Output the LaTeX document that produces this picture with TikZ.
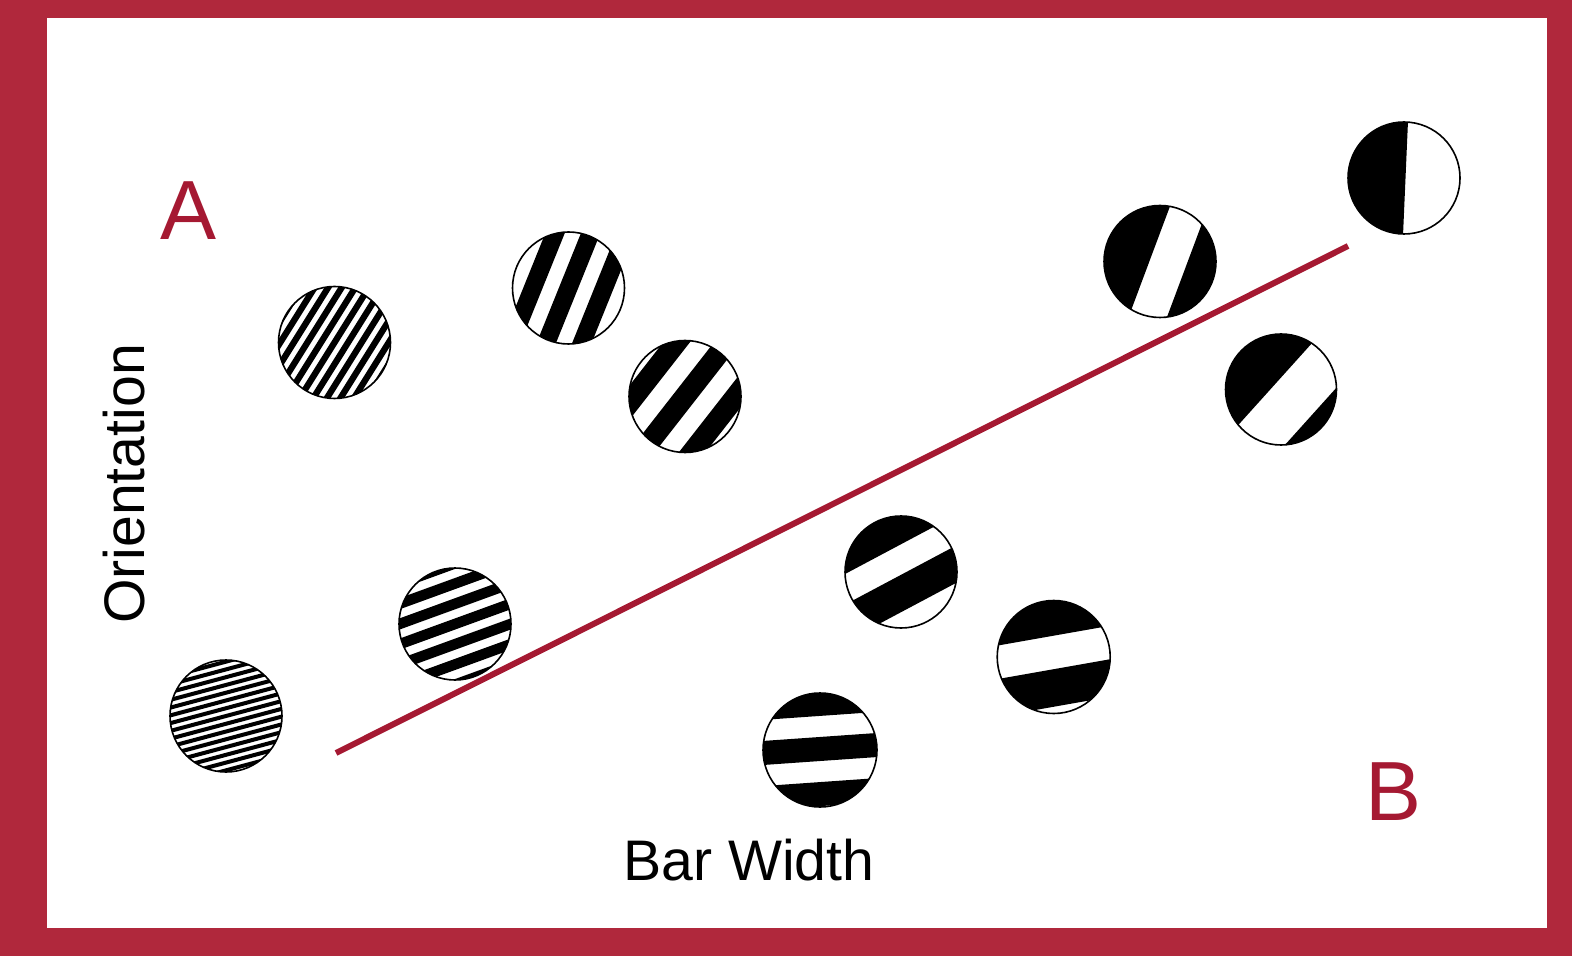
\documentclass[tikz,border=0pt]{standalone}
\usepackage{fontspec}
\setmainfont{Liberation Sans}
\definecolor{frame}{RGB}{176,40,60}
\definecolor{dred}{RGB}{165,25,50}
\newcommand\grat[8]{% cx cy angle period phase r name blackwidth
 \begin{scope}[shift={(#1,#2)},rotate=#3]
  \begin{scope}
  \clip (0,0) circle (#6);
  \fill[white] (0,0) circle (#6);
  \foreach \k in {-16,...,16}{
    \pgfmathsetmacro\ya{#5+\k*#4-#8/2}
    \pgfmathsetmacro\yb{#5+\k*#4+#8/2}
    \fill[black] (-70,\ya) rectangle (70,\yb);
  }
  \end{scope}
 \end{scope}
 \node[ring, minimum size=#6 pt] (#7) at (#1,#2) {};
}
\tikzset{ring/.style={circle, draw=black, line width=0.8pt, inner sep=0pt},
  lbl/.style={inner sep=0pt, anchor=base, font=\fontsize{28.6pt}{30pt}\selectfont},
  big/.style={inner sep=0pt, anchor=base, text=dred, font=\fontsize{42pt}{44pt}\selectfont}}
\begin{document}
\begin{tikzpicture}[x=0.5pt,y=-0.5pt]
\fill[frame] (0,0) rectangle (1572,956);
\fill[white] (47,18) rectangle (1547,928);
\useasboundingbox (0,0) rectangle (1572,956);
\grat{226}{716}{15}{7.5}{0}{56}{g1}{4}
\grat{334.5}{342.5}{58}{11.5}{0}{56}{g2}{6.3}
\grat{455}{624}{20}{19}{0}{56}{g3}{10.5}
\grat{568.5}{288}{68}{33}{0}{56}{g4}{18}
\grat{685}{396.5}{52}{40}{0}{56}{g5}{21}
\grat{901}{572}{28}{60}{19}{56}{g6}{33}
\grat{820}{750}{4}{45}{-1}{57}{g7}{24}
\grat{1053.7}{657}{10}{70}{30.5}{56.5}{g8}{37}
\grat{1160}{261.5}{69.5}{90}{-37}{56}{g9}{54}
\grat{1281}{389.5}{48}{96}{-32}{55.5}{g10}{48}
\grat{1404}{178}{87.5}{300}{-73.5}{56}{g11}{150}
\coordinate (l1) at (336,753);
\coordinate (l2) at (1348,246);
\draw[dred, line width=3pt] (l1) -- (l2);
\node[big] (A) at (189,240) {A};
\node[big] (B) at (1393,820) {B};
\node[lbl] (bw) at (749,880) {Bar Width};
\node[lbl, rotate=90] (or) at (144,484) {Orientation};
\end{tikzpicture}
\end{document}
